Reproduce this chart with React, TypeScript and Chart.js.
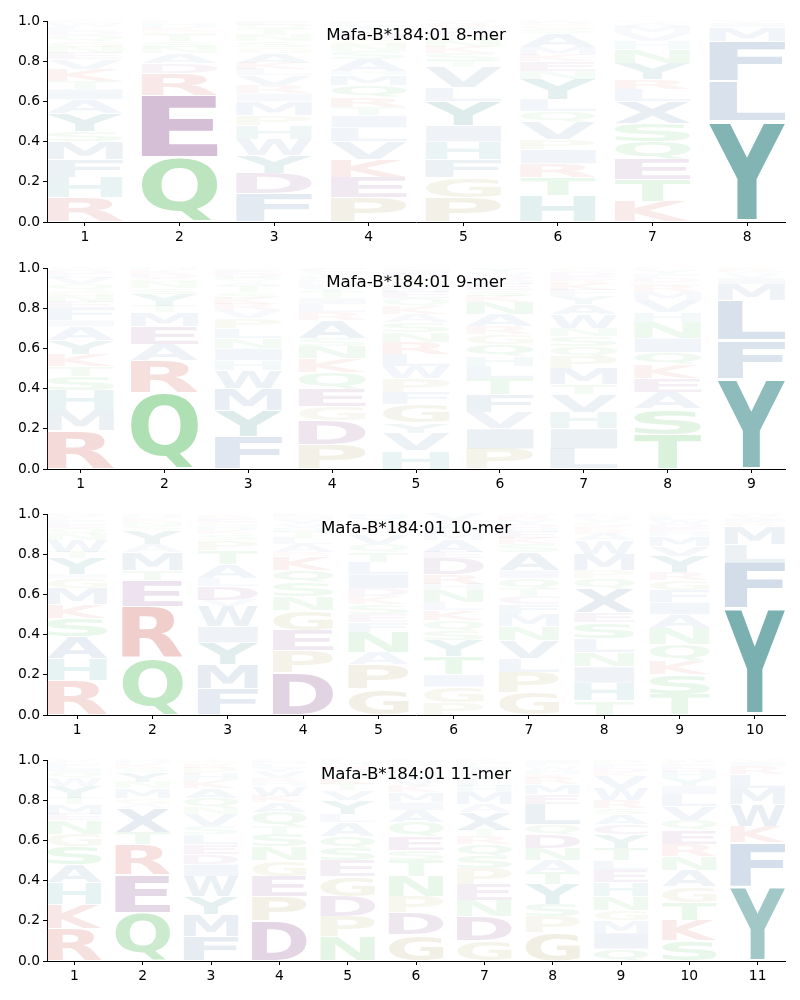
import React, { useEffect, useRef } from "react";
import { Chart, registerables } from "chart.js";

Chart.register(...registerables);

const titles = [
  "Mafa-B*184:01 8-mer",
  "Mafa-B*184:01 9-mer",
  "Mafa-B*184:01 10-mer",
  "Mafa-B*184:01 11-mer",
];

const yTickValues = [0, 0.2, 0.4, 0.6, 0.8, 1.0];

// Each position: letters stacked from bottom to top, with their heights.
const mer8Letters = [
  "RHFMSYAITKVENGQDLWC",
  "QERDANSTGKHL",
  "FDYWHPMIRVLKAGSNTQE",
  "PEKVLITRQMHASNGDWYF",
  "PGFHIYLVTSKNQEARW",
  "HTRIPVQLYNEKMASGDW",
  "KTEQSXLRYNHVMAG",
  "YLFMIV",
];
const mer8Values = [
  [0.12, 0.10, 0.09, 0.09, 0.05, 0.09, 0.07, 0.05, 0.04, 0.06, 0.05, 0.03, 0.03, 0.03, 0.03, 0.02, 0.02, 0.02, 0.01],
  [0.32, 0.31, 0.11, 0.05, 0.05, 0.03, 0.03, 0.03, 0.02, 0.02, 0.02, 0.01],
  [0.14, 0.10, 0.09, 0.08, 0.07, 0.05, 0.07, 0.04, 0.04, 0.05, 0.03, 0.03, 0.05, 0.03, 0.03, 0.03, 0.03, 0.02, 0.02],
  [0.12, 0.10, 0.09, 0.09, 0.07, 0.06, 0.04, 0.05, 0.06, 0.05, 0.02, 0.06, 0.04, 0.03, 0.03, 0.03, 0.02, 0.02, 0.02],
  [0.12, 0.10, 0.09, 0.09, 0.08, 0.12, 0.07, 0.10, 0.03, 0.04, 0.03, 0.03, 0.03, 0.02, 0.02, 0.02, 0.01],
  [0.13, 0.09, 0.07, 0.07, 0.05, 0.09, 0.05, 0.06, 0.10, 0.04, 0.05, 0.03, 0.04, 0.07, 0.02, 0.02, 0.01, 0.01],
  [0.10, 0.11, 0.10, 0.09, 0.09, 0.11, 0.06, 0.05, 0.08, 0.07, 0.04, 0.04, 0.03, 0.02, 0.01],
  [0.50, 0.20, 0.20, 0.07, 0.02, 0.01],
];

const mer9Letters = [
  "RMHSTKYAIFENGQVLDW",
  "QRAEMTYSNGDKH",
  "FYMWHINLPVRKSTAQDEG",
  "PDGEQKNSARLITYFMHWVC",
  "HVYGFPWLRNSAKQEMTDIC",
  "PIVFTLHQGRANKSEMDWY",
  "LIHVTMPQSNWAYFKREDG",
  "TSAEKQINHVMRGDFYL",
  "YFLMIVWRK",
];
const mer9Values = [
  [0.19, 0.10, 0.10, 0.07, 0.05, 0.06, 0.07, 0.07, 0.03, 0.06, 0.03, 0.03, 0.03, 0.03, 0.03, 0.02, 0.02, 0.01],
  [0.38, 0.16, 0.08, 0.09, 0.07, 0.03, 0.06, 0.03, 0.03, 0.02, 0.02, 0.02, 0.01],
  [0.16, 0.13, 0.11, 0.09, 0.05, 0.06, 0.05, 0.05, 0.05, 0.04, 0.03, 0.03, 0.03, 0.03, 0.02, 0.02, 0.02, 0.02, 0.01],
  [0.12, 0.12, 0.07, 0.09, 0.08, 0.07, 0.06, 0.04, 0.09, 0.04, 0.04, 0.03, 0.03, 0.02, 0.02, 0.02, 0.01, 0.01, 0.02, 0.02],
  [0.09, 0.09, 0.05, 0.09, 0.06, 0.07, 0.06, 0.06, 0.06, 0.05, 0.05, 0.04, 0.04, 0.04, 0.03, 0.03, 0.03, 0.03, 0.02, 0.01],
  [0.10, 0.10, 0.08, 0.09, 0.08, 0.06, 0.05, 0.06, 0.05, 0.04, 0.06, 0.06, 0.03, 0.03, 0.03, 0.02, 0.02, 0.02, 0.02],
  [0.10, 0.10, 0.08, 0.09, 0.05, 0.08, 0.06, 0.05, 0.05, 0.04, 0.07, 0.05, 0.04, 0.03, 0.03, 0.02, 0.02, 0.02, 0.02],
  [0.17, 0.13, 0.08, 0.07, 0.07, 0.06, 0.07, 0.08, 0.05, 0.06, 0.04, 0.03, 0.02, 0.02, 0.02, 0.02, 0.01],
  [0.45, 0.19, 0.20, 0.08, 0.03, 0.02, 0.01, 0.01, 0.01],
];

const mer10Letters = [
  "RHASKMGIYTWNQEFLVD",
  "QRETMAYSNKHG",
  "FMYIWVDLATPSKHGERQ",
  "DPEGNSQKRALTHVYIMF",
  "GPANFESKDILTQVMRWYH",
  "PGITYSQKLNHRDEAMFWCV",
  "GPLVNMFCTQIASKEHDYRW",
  "THINLSEXQPMWARKGVDF",
  "TSKQNAIFGRYVMHEDWLP",
  "YFLMRIVW",
];
const mer10Values = [
  [0.17, 0.11, 0.11, 0.09, 0.07, 0.08, 0.05, 0.02, 0.08, 0.03, 0.06, 0.03, 0.03, 0.02, 0.02, 0.01, 0.01, 0.01],
  [0.28, 0.26, 0.13, 0.05, 0.09, 0.04, 0.07, 0.02, 0.02, 0.02, 0.01, 0.01],
  [0.13, 0.12, 0.11, 0.08, 0.10, 0.03, 0.07, 0.04, 0.07, 0.07, 0.05, 0.03, 0.02, 0.02, 0.02, 0.02, 0.01, 0.01],
  [0.21, 0.11, 0.10, 0.10, 0.07, 0.07, 0.06, 0.07, 0.02, 0.04, 0.03, 0.03, 0.02, 0.02, 0.02, 0.01, 0.01, 0.01],
  [0.13, 0.12, 0.06, 0.10, 0.05, 0.04, 0.05, 0.04, 0.04, 0.07, 0.06, 0.05, 0.04, 0.05, 0.02, 0.02, 0.02, 0.02, 0.02],
  [0.06, 0.08, 0.06, 0.09, 0.08, 0.05, 0.05, 0.05, 0.04, 0.06, 0.03, 0.05, 0.08, 0.03, 0.06, 0.03, 0.03, 0.02, 0.02, 0.03],
  [0.11, 0.10, 0.07, 0.09, 0.07, 0.06, 0.05, 0.04, 0.04, 0.05, 0.04, 0.09, 0.04, 0.03, 0.03, 0.02, 0.02, 0.02, 0.02, 0.01],
  [0.07, 0.09, 0.08, 0.07, 0.07, 0.08, 0.05, 0.12, 0.05, 0.04, 0.08, 0.07, 0.03, 0.02, 0.02, 0.02, 0.02, 0.01, 0.01],
  [0.10, 0.10, 0.07, 0.08, 0.08, 0.07, 0.06, 0.06, 0.05, 0.04, 0.08, 0.05, 0.05, 0.02, 0.02, 0.02, 0.02, 0.02, 0.01],
  [0.53, 0.23, 0.09, 0.09, 0.02, 0.02, 0.01, 0.01],
];

const mer11Letters = [
  "RKHASGNEMTYWQIFLV",
  "QERTXAGMNYSKDH",
  "FMYWIDELSVNQAKHPRGT",
  "DPEGNSTQAKWHRVYLMF",
  "NPDGESQALYVTKHWRMF",
  "GDPNTSEQAIMKVYHRFWL",
  "GDNEPSQRTXAMHLYVIFK",
  "GPSYTANDQLEMRKHWFI",
  "QIMGNHELTYCASRWVKDFP",
  "SKTGANREQVLIYHDFPW",
  "YFKWMLRIV",
];
const mer11Values = [
  [0.16, 0.12, 0.11, 0.09, 0.09, 0.06, 0.07, 0.03, 0.05, 0.03, 0.06, 0.04, 0.03, 0.02, 0.02, 0.01, 0.01],
  [0.24, 0.19, 0.15, 0.06, 0.12, 0.02, 0.03, 0.05, 0.03, 0.05, 0.02, 0.02, 0.01, 0.01],
  [0.12, 0.11, 0.09, 0.10, 0.06, 0.05, 0.05, 0.05, 0.04, 0.06, 0.03, 0.05, 0.05, 0.04, 0.03, 0.03, 0.02, 0.01, 0.01],
  [0.20, 0.12, 0.10, 0.08, 0.07, 0.06, 0.04, 0.07, 0.05, 0.03, 0.05, 0.02, 0.02, 0.03, 0.02, 0.02, 0.01, 0.01],
  [0.12, 0.10, 0.10, 0.10, 0.08, 0.06, 0.06, 0.07, 0.04, 0.07, 0.05, 0.03, 0.03, 0.02, 0.02, 0.02, 0.02, 0.01],
  [0.13, 0.11, 0.08, 0.10, 0.08, 0.05, 0.07, 0.07, 0.06, 0.04, 0.05, 0.03, 0.03, 0.02, 0.02, 0.02, 0.02, 0.01, 0.01],
  [0.10, 0.12, 0.08, 0.08, 0.08, 0.06, 0.06, 0.04, 0.03, 0.09, 0.04, 0.06, 0.03, 0.03, 0.03, 0.02, 0.02, 0.02, 0.01],
  [0.14, 0.08, 0.06, 0.10, 0.06, 0.06, 0.06, 0.07, 0.05, 0.10, 0.05, 0.05, 0.03, 0.02, 0.02, 0.02, 0.02, 0.01],
  [0.06, 0.08, 0.06, 0.05, 0.07, 0.07, 0.06, 0.05, 0.06, 0.07, 0.05, 0.05, 0.03, 0.04, 0.06, 0.06, 0.02, 0.02, 0.02, 0.02],
  [0.10, 0.10, 0.09, 0.08, 0.08, 0.07, 0.06, 0.07, 0.05, 0.07, 0.06, 0.04, 0.04, 0.03, 0.02, 0.02, 0.01, 0.01],
  [0.37, 0.22, 0.08, 0.11, 0.08, 0.07, 0.04, 0.02, 0.01],
];

const panels = [
  { title: titles[0], letters: mer8Letters, values: mer8Values },
  { title: titles[1], letters: mer9Letters, values: mer9Values },
  { title: titles[2], letters: mer10Letters, values: mer10Values },
  { title: titles[3], letters: mer11Letters, values: mer11Values },
];

// Colour families (style)
const BLUE: [number, number, number] = [80, 120, 170];
const TEAL: [number, number, number] = [20, 115, 115];
const HTEAL: [number, number, number] = [60, 150, 150];
const GREEN: [number, number, number] = [60, 180, 70];
const PURPLE: [number, number, number] = [130, 65, 135];
const RED: [number, number, number] = [200, 80, 70];
const OLIVE: [number, number, number] = [165, 155, 80];

const letterColor: Record<string, [number, number, number]> = {
  A: BLUE, C: PURPLE, D: PURPLE, E: PURPLE, F: BLUE, G: OLIVE, H: HTEAL,
  I: BLUE, K: RED, L: BLUE, M: BLUE, N: GREEN, P: OLIVE, Q: GREEN, R: RED,
  S: GREEN, T: GREEN, V: BLUE, W: BLUE, X: BLUE, Y: TEAL,
};

const GLYPH_FONT = 'bold 200px "DejaVu Sans"';
const glyphCache: Record<string, { l: number; r: number; a: number; d: number }> = {};

function drawGlyph(
  ctx: CanvasRenderingContext2D,
  ch: string,
  x0: number,
  x1: number,
  yTop: number,
  yBottom: number,
  color: string
) {
  ctx.save();
  ctx.font = GLYPH_FONT;
  ctx.textAlign = "left";
  ctx.textBaseline = "alphabetic";
  let m = glyphCache[ch];
  if (!m) {
    const t = ctx.measureText(ch);
    m = {
      l: t.actualBoundingBoxLeft,
      r: t.actualBoundingBoxRight,
      a: t.actualBoundingBoxAscent,
      d: t.actualBoundingBoxDescent,
    };
    glyphCache[ch] = m;
  }
  const gw = m.l + m.r;
  const gh = m.a + m.d;
  const h = yBottom - yTop;
  if (h <= 0.2 || gw <= 0 || gh <= 0) {
    ctx.restore();
    return;
  }
  ctx.translate(x0, yTop);
  ctx.scale((x1 - x0) / gw, h / gh);
  ctx.fillStyle = color;
  ctx.fillText(ch, m.l, m.a);
  ctx.restore();
}

function alphaFor(p: number) {
  return Math.min(1, 1.05 * p + 0.01);
}

function makeLogoPlugin(panel: { title: string; letters: string[]; values: number[][] }) {
  return {
    id: "logoLetters",
    afterDatasetsDraw(chart: any) {
      const { ctx, scales, chartArea } = chart;
      const xs = scales.x;
      const ys = scales.y;
      ctx.save();
      panel.letters.forEach((col, i) => {
        const pos = i + 1;
        const xl = xs.getPixelForValue(pos - 0.4);
        const xr = xs.getPixelForValue(pos + 0.4);
        let cum = 0;
        const vals = panel.values[i];
        for (let k = 0; k < col.length; k++) {
          const v = vals[k];
          const yb = ys.getPixelForValue(cum);
          const yt = ys.getPixelForValue(cum + v);
          cum += v;
          const pad = (yb - yt) * 0.025;
          const c = letterColor[col[k]] || BLUE;
          const a = alphaFor(v);
          drawGlyph(ctx, col[k], xl, xr, yt + pad, yb - pad, `rgba(${c[0]},${c[1]},${c[2]},${a})`);
        }
      });
      // title inside the axes
      ctx.fillStyle = "#000";
      ctx.font = '16.67px "DejaVu Sans"';
      ctx.textAlign = "center";
      ctx.textBaseline = "middle";
      ctx.fillText(panel.title, (chartArea.left + chartArea.right) / 2, chartArea.top + 15);
      ctx.restore();
    },
  };
}

function LogoPanel({ panel, top }: { panel: { title: string; letters: string[]; values: number[][] }; top: number }) {
  const ref = useRef<HTMLCanvasElement>(null);
  useEffect(() => {
    if (!ref.current) return;
    const L = panel.letters.length;
    const positions = Array.from({ length: L }, (_, i) => i + 1);
    const tickFont = { family: "DejaVu Sans", size: 13.89 };
    const chart = new Chart(ref.current, {
      type: "scatter",
      data: {
        datasets: [
          {
            data: positions.map((p, i) => ({ x: p, y: panel.values[i].reduce((s, v) => s + v, 0) })),
            pointRadius: 0,
            pointHoverRadius: 0,
            showLine: false,
          },
        ],
      },
      options: {
        responsive: false,
        animation: false,
        devicePixelRatio: 1,
        events: [],
        layout: { padding: { top: 21, right: 15, left: 0, bottom: 0 } },
        plugins: {
          legend: { display: false },
          tooltip: { enabled: false },
          title: { display: false },
        },
        scales: {
          x: {
            type: "linear",
            min: 0.6,
            max: L + 0.4,
            afterBuildTicks: (s: any) => {
              s.ticks = positions.map((v) => ({ value: v }));
            },
            afterFit: (s: any) => {
              s.height = 24;
              s.paddingLeft = 0;
              s.paddingRight = 0;
            },
            grid: { display: true, drawOnChartArea: false, drawTicks: true, tickLength: 4, color: "#000", lineWidth: 1 },
            border: { display: true, color: "#000", width: 1 },
            ticks: {
              color: "#000",
              font: tickFont,
              padding: 3,
              maxRotation: 0,
              autoSkip: false,
              callback: (v: any) => String(v),
            },
          },
          y: {
            type: "linear",
            min: 0,
            max: 1,
            afterBuildTicks: (s: any) => {
              s.ticks = yTickValues.map((v) => ({ value: v }));
            },
            afterFit: (s: any) => {
              s.width = 47;
              s.paddingTop = 0;
              s.paddingBottom = 0;
            },
            grid: { display: true, drawOnChartArea: false, drawTicks: true, tickLength: 4, color: "#000", lineWidth: 1 },
            border: { display: true, color: "#000", width: 1 },
            ticks: {
              color: "#000",
              font: tickFont,
              padding: 3,
              autoSkip: false,
              callback: (v: any) => Number(v).toFixed(1),
            },
          },
        },
      },
      plugins: [makeLogoPlugin(panel)],
    } as any);
    return () => chart.destroy();
  }, [panel]);
  return (
    <canvas
      ref={ref}
      width={800}
      height={246}
      style={{ position: "absolute", left: 0, top, width: 800, height: 246, display: "block" }}
    />
  );
}

const panelTops = [0, 247, 493, 739];

export default function App() {
  return (
    <div style={{ position: "absolute", left: 0, top: 0, width: 800, height: 1000, background: "#fff" }}>
      {panels.map((p, i) => (
        <LogoPanel key={i} panel={p} top={panelTops[i]} />
      ))}
    </div>
  );
}
